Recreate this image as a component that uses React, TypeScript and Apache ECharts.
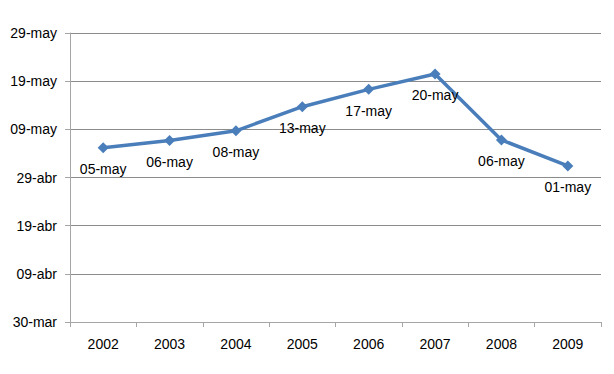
import React, { useEffect, useRef } from "react";
import * as echarts from "echarts";

// Years (categories)
const years = ["2002", "2003", "2004", "2005", "2006", "2007", "2008", "2009"];
// Dates as day offsets from 30-mar (fractional part = time of day)
const dayOffsets = [36.2, 37.7, 39.7, 44.7, 48.3, 51.5, 37.8, 32.4];
// Spanish month abbreviations and lengths (non-leap year)
const monthNames = ["ene", "feb", "mar", "abr", "may", "jun", "jul", "ago", "sep", "oct", "nov", "dic"];
const monthDays = [31, 28, 31, 30, 31, 30, 31, 31, 30, 31, 30, 31];
const baseMonth = 2; // March (0-based)
const baseDay = 30;

function fmt(offset: number): string {
  let m = baseMonth;
  let d = baseDay + Math.floor(offset + 1e-9);
  while (d > monthDays[m]) {
    d -= monthDays[m];
    m = (m + 1) % 12;
  }
  return (d < 10 ? "0" + d : "" + d) + "-" + monthNames[m];
}

export default function App() {
  const ref = useRef<HTMLDivElement>(null);
  useEffect(() => {
    if (!ref.current) return;
    const chart = echarts.init(ref.current, undefined, { renderer: "svg" });
    const font = "Liberation Sans, Arial, sans-serif";
    chart.setOption({
      animation: false,
      backgroundColor: "#ffffff",
      grid: { left: 70, right: 13, top: 33, bottom: 52, containLabel: false },
      xAxis: {
        type: "category",
        data: years,
        boundaryGap: true,
        axisLine: { lineStyle: { color: "#a6a6a6", width: 1 } },
        axisTick: { show: true, length: 5, lineStyle: { color: "#a6a6a6" } },
        axisLabel: { color: "#000", fontSize: 14, fontFamily: font, margin: 15 },
        splitLine: { show: false },
      },
      yAxis: {
        type: "value",
        min: 0,
        max: 60,
        interval: 10,
        axisLine: { show: true, lineStyle: { color: "#a6a6a6", width: 1 } },
        axisTick: { show: true, length: 5, inside: false, lineStyle: { color: "#a6a6a6" } },
        axisLabel: {
          color: "#000",
          fontSize: 14,
          fontFamily: font,
          margin: 13,
          formatter: (v: number) => fmt(v),
        },
        splitLine: { show: true, lineStyle: { color: "#8c8c8c", width: 1 } },
      },
      series: [
        {
          type: "line",
          data: dayOffsets,
          symbol: "diamond",
          symbolSize: 11,
          itemStyle: { color: "#4a7ebb" },
          lineStyle: { color: "#4a7ebb", width: 3.5 },
          label: {
            show: true,
            position: "bottom",
            distance: 9,
            color: "#000",
            fontSize: 14,
            fontFamily: font,
            formatter: (p: any) => fmt(p.value),
          },
        },
      ],
    });
    return () => chart.dispose();
  }, []);
  return <div ref={ref} style={{ width: 614, height: 374, position: "absolute", left: 0, top: 0 }} />;
}
